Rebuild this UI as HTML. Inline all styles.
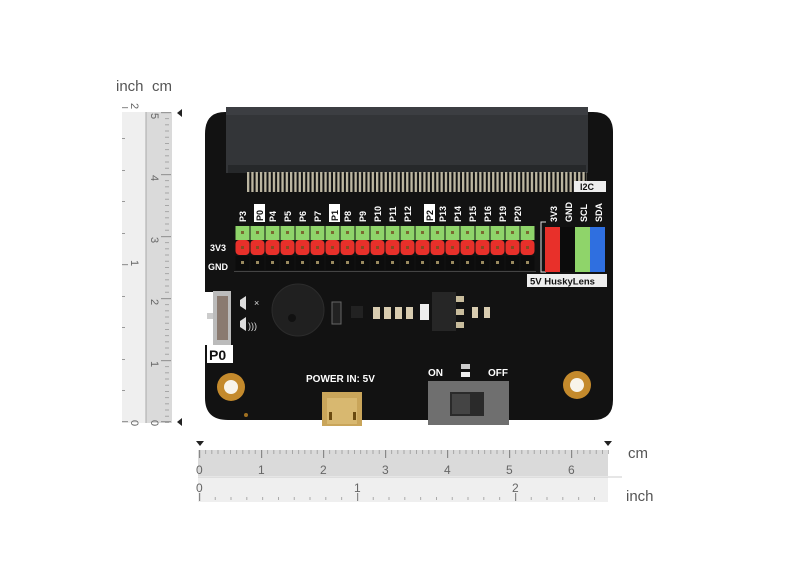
<!DOCTYPE html>
<html><head><meta charset="utf-8"><style>
html,body{margin:0;padding:0;background:#fff;width:800px;height:572px;overflow:hidden}
svg{display:block}
text{font-family:"Liberation Sans",sans-serif}
</style></head><body>
<svg width="800" height="572" viewBox="0 0 800 572" xmlns="http://www.w3.org/2000/svg">
<defs>
<pattern id="gpin" x="235" y="0" width="15" height="572" patternUnits="userSpaceOnUse">
<rect x="0.5" y="226" width="14" height="14" fill="#8fd46a"/><rect x="6" y="231" width="3" height="3" fill="#7a6a30"/></pattern>
<pattern id="rpin" x="235" y="0" width="15" height="572" patternUnits="userSpaceOnUse">
<rect x="0.5" y="240" width="14" height="15" rx="4" fill="#e8302a"/><rect x="6" y="246" width="3" height="3" fill="#8a4a20"/></pattern>
<pattern id="kpin" x="235" y="0" width="15" height="572" patternUnits="userSpaceOnUse">
<rect x="0.5" y="256" width="14" height="14" fill="#0c0c0c"/><rect x="6" y="261" width="3" height="3" fill="#9a8a60"/></pattern>
<pattern id="cpin" x="247" y="0" width="4.3" height="572" patternUnits="userSpaceOnUse">
<rect x="0" y="172" width="2.3" height="20" fill="#bdb7a2"/></pattern>
<pattern id="vt" x="0" y="422" width="10" height="6.2" patternUnits="userSpaceOnUse"><rect x="0" y="0" width="10" height="0.8" fill="#999"/></pattern>
<pattern id="ht" x="199" y="0" width="6.2" height="10" patternUnits="userSpaceOnUse"><rect x="0" y="0" width="0.8" height="10" fill="#999"/></pattern>
<pattern id="hti" x="199" y="0" width="15.8" height="10" patternUnits="userSpaceOnUse"><rect x="0" y="0" width="0.8" height="10" fill="#999"/></pattern>
</defs>

<!-- left ruler -->
<rect x="122" y="112" width="24" height="311" fill="#efefef"/>
<rect x="146" y="112" width="26" height="311" fill="#dadada"/>
<line x1="146" y1="112" x2="146" y2="423" stroke="#aaa"/>
<rect x="165" y="112" width="4" height="311" fill="url(#vt)"/>
<rect x="122" y="112" width="4" height="311" fill="url(#vt)" opacity="0"/>
<g fill="#999">
<rect x="161" y="112" width="10" height="1.2"/><rect x="161" y="174" width="10" height="1.2"/><rect x="161" y="236" width="10" height="1.2"/><rect x="161" y="298" width="10" height="1.2"/><rect x="161" y="360" width="10" height="1.2"/><rect x="161" y="421" width="10" height="1.2"/>
<rect x="122" y="107" width="6" height="1.2"/><rect x="122" y="264" width="6" height="1.2"/><rect x="122" y="421" width="6" height="1.2"/>
<rect x="122" y="138" width="3" height="1"/><rect x="122" y="170" width="3" height="1"/><rect x="122" y="201" width="3" height="1"/><rect x="122" y="233" width="3" height="1"/><rect x="122" y="296" width="3" height="1"/><rect x="122" y="327" width="3" height="1"/><rect x="122" y="359" width="3" height="1"/><rect x="122" y="390" width="3" height="1"/>
</g>
<g font-size="11" fill="#666">
<text transform="translate(151,113) rotate(90)">5</text>
<text transform="translate(151,175) rotate(90)">4</text>
<text transform="translate(151,237) rotate(90)">3</text>
<text transform="translate(151,299) rotate(90)">2</text>
<text transform="translate(151,361) rotate(90)">1</text>
<text transform="translate(151,420) rotate(90)">0</text>
<text transform="translate(131,103) rotate(90)">2</text>
<text transform="translate(131,260) rotate(90)">1</text>
<text transform="translate(131,420) rotate(90)">0</text>
</g>
<polygon points="177,113 182,109 182,117" fill="#222"/>
<polygon points="177,422 182,418 182,426" fill="#222"/>
<text x="116" y="91" font-size="15" fill="#555">inch</text>
<text x="152" y="91" font-size="15" fill="#555">cm</text>

<!-- bottom ruler -->
<rect x="198" y="450" width="410" height="26" fill="#dadada"/>
<rect x="198" y="477" width="410" height="25" fill="#efefef"/>
<line x1="198" y1="477" x2="622" y2="477" stroke="#ccc"/>
<rect x="199" y="450" width="410" height="4" fill="url(#ht)"/>
<rect x="199" y="497" width="410" height="3" fill="url(#hti)"/>
<g fill="#888">
<rect x="199" y="450" width="1.2" height="8"/><rect x="261" y="450" width="1.2" height="8"/><rect x="323" y="450" width="1.2" height="8"/><rect x="385" y="450" width="1.2" height="8"/><rect x="447" y="450" width="1.2" height="8"/><rect x="509" y="450" width="1.2" height="8"/><rect x="571" y="450" width="1.2" height="8"/>
<rect x="199" y="493" width="1.2" height="8"/><rect x="357" y="493" width="1.2" height="8"/><rect x="515" y="493" width="1.2" height="8"/>
</g>
<g font-size="12" fill="#666">
<text x="196" y="474">0</text><text x="258" y="474">1</text><text x="320" y="474">2</text><text x="382" y="474">3</text><text x="444" y="474">4</text><text x="506" y="474">5</text><text x="568" y="474">6</text>
<text x="196" y="492">0</text><text x="354" y="492">1</text><text x="512" y="492">2</text>
</g>
<polygon points="196,441 204,441 200,446" fill="#222"/>
<polygon points="604,441 612,441 608,446" fill="#222"/>
<text x="628" y="458" font-size="15" fill="#555">cm</text>
<text x="626" y="501" font-size="15" fill="#555">inch</text>

<!-- board -->
<path d="M225,112 H593 Q613,112 613,132 V400 Q613,420 593,420 H228 Q205,420 205,398 V345 H213 V292 H205 V134 Q205,112 225,112 Z" fill="#121212"/>
<!-- edge connector -->
<rect x="226" y="107" width="362" height="66" fill="#333538"/>
<rect x="226" y="107" width="362" height="8" fill="#3c3e42"/>
<rect x="228" y="165" width="358" height="8" fill="#26282a"/>
<rect x="247" y="172" width="340" height="20" fill="url(#cpin)"/>

<!-- header -->
<rect x="235" y="226" width="300" height="14" fill="url(#gpin)"/>
<rect x="235" y="240" width="300" height="15" fill="url(#rpin)"/>
<rect x="235" y="256" width="300" height="14" fill="url(#kpin)"/>
<rect x="234" y="271" width="302" height="1" fill="#444"/>
<text x="210" y="251" font-size="9" font-weight="bold" fill="#fff">3V3</text>
<text x="208" y="270" font-size="9" font-weight="bold" fill="#fff">GND</text>
<g font-size="9" font-weight="bold" fill="#fff">
<text transform="translate(246,222) rotate(-90)">P3</text>
<rect x="254" y="204" width="11" height="18" fill="#fff"/><text transform="translate(263,221) rotate(-90)" fill="#111">P0</text>
<text transform="translate(276,222) rotate(-90)">P4</text>
<text transform="translate(291,222) rotate(-90)">P5</text>
<text transform="translate(306,222) rotate(-90)">P6</text>
<text transform="translate(321,222) rotate(-90)">P7</text>
<rect x="329" y="204" width="11" height="18" fill="#fff"/><text transform="translate(338,221) rotate(-90)" fill="#111">P1</text>
<text transform="translate(351,222) rotate(-90)">P8</text>
<text transform="translate(366,222) rotate(-90)">P9</text>
<text transform="translate(381,222) rotate(-90)">P10</text>
<text transform="translate(396,222) rotate(-90)">P11</text>
<text transform="translate(411,222) rotate(-90)">P12</text>
<rect x="424" y="204" width="11" height="18" fill="#fff"/><text transform="translate(433,221) rotate(-90)" fill="#111">P2</text>
<text transform="translate(446,222) rotate(-90)">P13</text>
<text transform="translate(461,222) rotate(-90)">P14</text>
<text transform="translate(476,222) rotate(-90)">P15</text>
<text transform="translate(491,222) rotate(-90)">P16</text>
<text transform="translate(506,222) rotate(-90)">P19</text>
<text transform="translate(521,222) rotate(-90)">P20</text>
<text transform="translate(557,222) rotate(-90)">3V3</text>
<text transform="translate(572,222) rotate(-90)">GND</text>
<text transform="translate(587,222) rotate(-90)">SCL</text>
<text transform="translate(602,222) rotate(-90)">SDA</text>
</g>
<rect x="574" y="181" width="32" height="11" fill="#eee"/>
<text x="580" y="190" font-size="9" font-weight="bold" fill="#111">I2C</text>
<path d="M546,222 H541 V272 H546" stroke="#ddd" fill="none"/>
<rect x="545" y="227" width="15" height="45" fill="#e8302a"/>
<rect x="560" y="227" width="15" height="45" fill="#0c0c0c"/>
<rect x="575" y="227" width="15" height="45" fill="#8fd46a"/>
<rect x="590" y="227" width="15" height="45" fill="#2f6fe0"/>
<rect x="527" y="274" width="80" height="13" fill="#eee"/>
<text x="530" y="284.5" font-size="9.5" font-weight="bold" fill="#111">5V HuskyLens</text>

<!-- left switch -->
<rect x="213" y="291" width="18" height="54" fill="#bbb"/>
<rect x="217" y="296" width="11" height="44" fill="#8a7a70"/>
<rect x="207" y="313" width="6" height="6" fill="#ccc"/>
<polygon points="240,300 246,296 246,310 240,306" fill="#ddd"/>
<text x="254" y="306" font-size="9" fill="#ddd">×</text>
<polygon points="240,321 246,317 246,331 240,327" fill="#ddd"/>
<text x="248" y="329" font-size="9" fill="#ddd">)))</text>
<rect x="207" y="345" width="26" height="18" fill="#fff"/>
<text x="209" y="360" font-size="14" font-weight="bold" fill="#111">P0</text>
<!-- buzzer -->
<circle cx="298" cy="310" r="26" fill="#202020" stroke="#2c2c2c"/>
<circle cx="292" cy="318" r="4" fill="#111"/>
<!-- components -->
<rect x="332" y="302" width="9" height="22" fill="#222" stroke="#666"/>
<rect x="351" y="306" width="12" height="12" fill="#222"/>
<g fill="#d8ccb0"><rect x="373" y="307" width="7" height="12"/><rect x="384" y="307" width="7" height="12"/><rect x="395" y="307" width="7" height="12"/><rect x="406" y="307" width="7" height="12"/><rect x="472" y="307" width="6" height="11"/><rect x="484" y="307" width="6" height="11"/></g>
<rect x="420" y="304" width="9" height="16" fill="#eee"/>
<rect x="432" y="292" width="24" height="39" fill="#262626"/>
<g fill="#c8bc9c"><rect x="456" y="296" width="8" height="6"/><rect x="456" y="309" width="8" height="6"/><rect x="456" y="322" width="8" height="6"/></g>

<!-- mounting holes -->
<circle cx="231" cy="387" r="14" fill="#c48a2c"/><circle cx="231" cy="387" r="7" fill="#f8f4ea"/>
<circle cx="577" cy="385" r="14" fill="#c48a2c"/><circle cx="577" cy="385" r="7" fill="#f8f4ea"/>
<circle cx="246" cy="415" r="2" fill="#a07020"/>

<!-- usb -->
<text x="306" y="382" font-size="10" font-weight="bold" fill="#fff">POWER IN: 5V</text>
<rect x="322" y="392" width="40" height="34" fill="#c9a55a"/>
<rect x="327" y="398" width="30" height="26" fill="#d8b870"/>
<rect x="329" y="412" width="3" height="8" fill="#6a4a10"/><rect x="353" y="412" width="3" height="8" fill="#6a4a10"/>

<!-- power switch -->
<text x="428" y="376" font-size="10" font-weight="bold" fill="#fff">ON</text>
<text x="488" y="376" font-size="10" font-weight="bold" fill="#fff">OFF</text>
<rect x="461" y="364" width="9" height="5" fill="#ccc"/><rect x="461" y="372" width="9" height="5" fill="#eee"/>
<rect x="428" y="381" width="81" height="44" fill="#6f6f6f"/>
<rect x="450" y="392" width="34" height="24" fill="#2a2a2a"/>
<rect x="452" y="394" width="18" height="20" fill="#444"/>
</svg>
</body></html>
